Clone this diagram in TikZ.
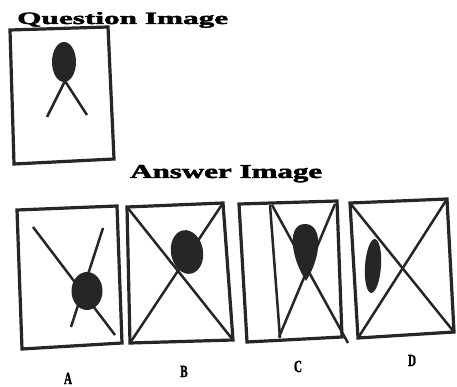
\documentclass[tikz,border=0pt]{standalone}
\usepackage{fontspec}
\setmainfont{Liberation Serif}
\newfontfamily\heavyfont{Liberation Serif}[BoldFeatures={FakeBold=2}]
\begin{document}
\begin{tikzpicture}[x=1pt,y=-1pt,
  frame/.style={line width=3.2pt,line join=miter,draw=black!85},
  stroke/.style={line width=2.5pt,draw=black!85},
  blob/.style={fill=black!85},
  title/.style={anchor=base west,inner sep=0pt,font=\heavyfont\bfseries},
  letter/.style={anchor=base,inner sep=0pt,font=\heavyfont\fontsize{17}{17}\selectfont\bfseries}]
\useasboundingbox[fill=white] (0,0) rectangle (457,387);

% titles
\node[title] (qt) at (17,24) {\resizebox{211pt}{12pt}{Question Image}};
\node[title] (at) at (130,178) {\resizebox{192pt}{13pt}{Answer Image}};

% question frame
\coordinate (q1) at (10,30); \coordinate (q2) at (108,27);
\coordinate (q3) at (114,159); \coordinate (q4) at (14,164);
\draw[frame] (q1) -- (q2) -- (q3) -- (q4) -- cycle;
\fill[blob] (64,62) ellipse [x radius=12, y radius=20];
\coordinate (qa) at (65,81); \coordinate (ql) at (47,117); \coordinate (qr) at (87,115);
\draw[stroke] (ql) -- (qa) -- (qr);

% A
\coordinate (a1) at (17,210); \coordinate (a2) at (117,206);
\coordinate (a3) at (122,343); \coordinate (a4) at (22,349);
\draw[frame] (a1) -- (a2) -- (a3) -- (a4) -- cycle;
\coordinate (aa) at (33,227); \coordinate (ab) at (115,335);
\coordinate (ac) at (103,228); \coordinate (ad) at (71,327);
\draw[stroke] (aa) -- (ab);
\draw[stroke] (ac) -- (ad);
\fill[blob] (87,291) ellipse [x radius=15.5, y radius=19];

% B
\coordinate (b1) at (127,207); \coordinate (b2) at (223,203);
\coordinate (b3) at (233,340); \coordinate (b4) at (130,343);
\draw[frame] (b1) -- (b2) -- (b3) -- (b4) -- cycle;
\draw[stroke] (b1) -- (b3);
\draw[stroke] (b2) -- (b4);
\fill[blob,rotate around={10:(187,252)}] (187,252) ellipse [x radius=16, y radius=22];

% C
\coordinate (c1) at (239,204); \coordinate (c2) at (337,201);
\coordinate (c3) at (342,337); \coordinate (c4) at (247,342);
\draw[frame] (c1) -- (c2) -- (c3) -- (c4) -- cycle;
\coordinate (cv1) at (270,205); \coordinate (cv2) at (280,338);
\coordinate (cx1) at (272,205); \coordinate (cx2) at (348,343);
\coordinate (cy1) at (335,204); \coordinate (cy2) at (279,337);
\draw[stroke] (cv1) -- (cv2);
\draw[stroke] (cx1) -- (cx2);
\draw[stroke] (cy1) -- (cy2);
\fill[blob] (305,224) .. controls (323,224) and (322,256) .. (306,281)
  .. controls (290,256) and (287,224) .. (305,224) -- cycle;

% D
\coordinate (d1) at (350,203); \coordinate (d2) at (447,199);
\coordinate (d3) at (454,332); \coordinate (d4) at (358,338);
\draw[frame] (d1) -- (d2) -- (d3) -- (d4) -- cycle;
\draw[stroke] (d1) -- (d3);
\draw[stroke] (d2) -- (d4);
\fill[blob,rotate around={-4:(373,266)}] (373,266) ellipse [x radius=8, y radius=27];

% labels
\node[letter] (la) at (68,384) {\scalebox{0.65}[1]{A}};
\node[letter] (lb) at (184,377) {\scalebox{0.65}[1]{B}};
\node[letter] (lc) at (298,372) {\scalebox{0.65}[1]{C}};
\node[letter] (ld) at (412,366) {\scalebox{0.65}[1]{D}};
\end{tikzpicture}
\end{document}
